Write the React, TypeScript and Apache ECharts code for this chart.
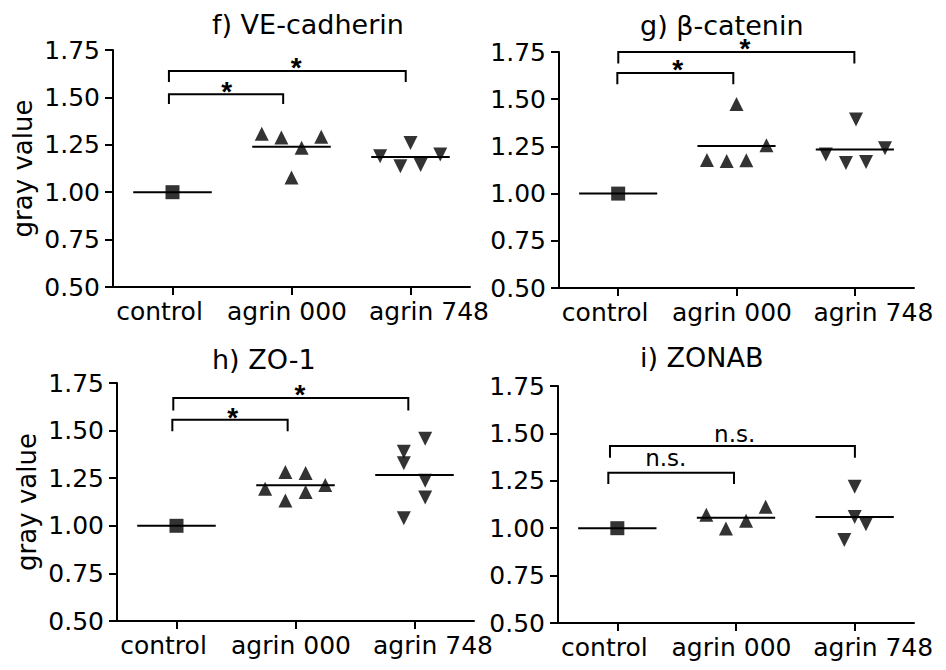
import React, { useEffect, useRef } from "react";
import * as echarts from "echarts";

// ---- categories & axis ----
const CATEGORIES = ["control", "agrin 000", "agrin 748"];
const Y_MIN = 0.5;
const Y_MAX = 1.75;
const Y_INTERVAL = 0.25;

// ---- panel titles ----
const TITLES = ["f) VE-cadherin", "g) \u03b2-catenin", "h) ZO-1", "i) ZONAB"];

// ---- data (gray value) ; jitter = horizontal offset within category band ----
const fControl = [1.0];
const fAgrin000 = [1.308, 1.288, 1.235, 1.292, 1.077];
const fAgrin000Jitter = [-0.25, -0.085, 0.085, 0.25, 0];
const fAgrin748 = [1.19, 1.137, 1.26, 1.144, 1.199];
const fAgrin748Jitter = [-0.255, -0.085, 0, 0.085, 0.25];

const gControl = [1.0];
const gAgrin000 = [1.178, 1.173, 1.475, 1.176, 1.256];
const gAgrin000Jitter = [-0.25, -0.083, 0, 0.083, 0.253];
const gAgrin748 = [1.207, 1.162, 1.392, 1.167, 1.24];
const gAgrin748Jitter = [-0.245, -0.075, 0.01, 0.095, 0.255];

const hControl = [1.0];
const hAgrin000 = [1.194, 1.282, 1.133, 1.277, 1.177, 1.214];
const hAgrin000Jitter = [-0.255, -0.085, -0.085, 0.085, 0.085, 0.25];
const hAgrin748 = [1.389, 1.329, 1.457, 1.236, 1.149, 1.04];
const hAgrin748Jitter = [-0.09, -0.09, 0.09, 0.09, 0.09, -0.09];

const iControl = [1.0];
const iAgrin000 = [1.071, 0.999, 1.039, 1.113];
const iAgrin000Jitter = [-0.25, -0.085, 0.085, 0.25];
const iAgrin748 = [1.218, 1.059, 1.021, 0.938];
const iAgrin748Jitter = [0, 0, 0.095, -0.087];

// ---- significance brackets: [xLeft, xRight, yTop, yLeg, labelX, labelY] (x in category-band units) ----
const fBrackets = [
  [0.47, 1.43, 1.516, 1.465, 0.955, 1.565],
  [0.47, 2.46, 1.639, 1.581, 1.54, 1.687],
];
const fBracketLabels = ["*", "*"];
const gBrackets = [
  [0.493, 1.473, 1.639, 1.579, 1.003, 1.69],
  [0.501, 2.496, 1.75, 1.689, 1.572, 1.798],
];
const gBracketLabels = ["*", "*"];
const hBrackets = [
  [0.465, 1.434, 1.557, 1.496, 0.972, 1.601],
  [0.473, 2.448, 1.671, 1.606, 1.538, 1.72],
];
const hBracketLabels = ["*", "*"];
const iBrackets = [
  [0.424, 1.483, 1.292, 1.233, 0.908, 1.37],
  [0.438, 2.502, 1.433, 1.371, 1.489, 1.496],
];
const iBracketLabels = ["n.s.", "n.s."];

const PANELS = [
  { control: fControl, a000: fAgrin000, j000: fAgrin000Jitter, a748: fAgrin748, j748: fAgrin748Jitter, brackets: fBrackets, labels: fBracketLabels },
  { control: gControl, a000: gAgrin000, j000: gAgrin000Jitter, a748: gAgrin748, j748: gAgrin748Jitter, brackets: gBrackets, labels: gBracketLabels },
  { control: hControl, a000: hAgrin000, j000: hAgrin000Jitter, a748: hAgrin748, j748: hAgrin748Jitter, brackets: hBrackets, labels: hBracketLabels },
  { control: iControl, a000: iAgrin000, j000: iAgrin000Jitter, a748: iAgrin748, j748: iAgrin748Jitter, brackets: iBrackets, labels: iBracketLabels },
];

// ---- layout (pixels) ----
const GRIDS = [
  { left: 113, top: 50, width: 357, height: 237 },
  { left: 559, top: 52, width: 355, height: 236 },
  { left: 117, top: 383, width: 357, height: 238 },
  { left: 558, top: 386, width: 356, height: 237 },
];
const TITLE_POS = [
  { left: 212, top: 11 },
  { left: 640, top: 12 },
  { left: 212, top: 346 },
  { left: 640, top: 344 },
];
// label padding to shift category labels off their ticks like the reference
const LABEL_PADDING = [
  [0, 26, 0, 0],
  [0, 9, 0, 0],
  [0, 0, 0, 37],
];

const FONT = "DejaVu Sans";
const STAR_FONT = "Liberation Sans";
const MEAN_HALF = 0.33;

const mean = (a: number[]) => a.reduce((s, v) => s + v, 0) / a.length;

function buildOption() {
  const grid: any[] = [];
  const xAxis: any[] = [];
  const yAxis: any[] = [];
  const series: any[] = [];
  const title: any[] = [];

  PANELS.forEach((p, i) => {
    grid.push({ ...GRIDS[i], containLabel: false, outerBoundsMode: "none" });
    title.push({
      text: TITLES[i],
      left: TITLE_POS[i].left,
      top: TITLE_POS[i].top,
      padding: 0,
      textStyle: { fontFamily: FONT, fontSize: 27, fontWeight: "normal", color: "#000" },
    });
    xAxis.push({
      type: "category",
      gridIndex: i,
      data: CATEGORIES.map((c, k) => ({ value: c, textStyle: { padding: LABEL_PADDING[k] } })),
      boundaryGap: true,
      axisLine: { show: true, lineStyle: { color: "#000", width: 2 } },
      axisTick: { show: true, alignWithLabel: true, length: 8, lineStyle: { color: "#000", width: 2 } },
      axisLabel: { color: "#000", fontSize: 25, fontFamily: FONT, margin: 12, interval: 0 },
      splitLine: { show: false },
    });
    xAxis.push({ type: "value", gridIndex: i, min: 0, max: 3, show: false });
    yAxis.push({
      type: "value",
      gridIndex: i,
      min: Y_MIN,
      max: Y_MAX,
      interval: Y_INTERVAL,
      name: i % 2 === 0 ? "gray value" : "",
      nameLocation: "middle",
      nameGap: 77,
      nameTextStyle: { fontFamily: FONT, fontSize: 26, color: "#000" },
      axisLine: { show: true, lineStyle: { color: "#000", width: 2 } },
      axisTick: { show: true, length: 8, lineStyle: { color: "#000", width: 2 } },
      axisLabel: {
        color: "#000",
        fontSize: 25,
        fontFamily: FONT,
        margin: 13,
        formatter: (v: number) => v.toFixed(2),
      },
      splitLine: { show: false },
    });

    const xi = 2 * i + 1;
    // mean lines
    series.push({
      type: "custom",
      xAxisIndex: xi,
      yAxisIndex: i,
      z: 1,
      silent: true,
      data: [
        [0, mean(p.control)],
        [1, mean(p.a000)],
        [2, mean(p.a748)],
      ],
      renderItem: (params: any, api: any) => {
        const ci = api.value(0);
        const m = api.value(1);
        const a = api.coord([ci + 0.5 - MEAN_HALF, m]);
        const b = api.coord([ci + 0.5 + MEAN_HALF, m]);
        return {
          type: "line",
          shape: { x1: a[0], y1: a[1], x2: b[0], y2: b[1] },
          style: { stroke: "#000", lineWidth: 2 },
        };
      },
    });
    // brackets
    series.push({
      type: "custom",
      xAxisIndex: xi,
      yAxisIndex: i,
      z: 1,
      silent: true,
      clip: false,
      data: p.brackets,
      renderItem: (params: any, api: any) => {
        const x1 = api.value(0);
        const x2 = api.value(1);
        const yt = api.value(2);
        const yl = api.value(3);
        const lx = api.value(4);
        const ly = api.value(5);
        const label = p.labels[params.dataIndex];
        const pts = [
          api.coord([x1, yl]),
          api.coord([x1, yt]),
          api.coord([x2, yt]),
          api.coord([x2, yl]),
        ];
        const lp = api.coord([lx, ly]);
        const isStar = label === "*";
        return {
          type: "group",
          children: [
            {
              type: "polyline",
              shape: { points: pts },
              style: { stroke: "#000", lineWidth: 2, fill: "none" },
            },
            {
              type: "text",
              x: lp[0],
              y: lp[1] + (isStar ? 6 : 0),
              style: {
                text: label,
                fontFamily: isStar ? STAR_FONT : FONT,
                fontSize: isStar ? 28 : 23,
                fontWeight: isStar ? "bold" : "normal",
                fill: "#000",
                align: "center",
                verticalAlign: "middle",
              },
            },
          ],
        };
      },
    });
    // points
    series.push({
      type: "scatter",
      xAxisIndex: xi,
      yAxisIndex: i,
      z: 3,
      clip: false,
      symbol: "rect",
      symbolSize: 14,
      itemStyle: { color: "#000" },
      data: p.control.map((v) => [0.5, v]),
    });
    series.push({
      type: "scatter",
      xAxisIndex: xi,
      yAxisIndex: i,
      z: 3,
      clip: false,
      symbol: "triangle",
      symbolSize: 14,
      itemStyle: { color: "#000" },
      data: p.a000.map((v, k) => [1.5 + p.j000[k], v]),
    });
    series.push({
      type: "scatter",
      xAxisIndex: xi,
      yAxisIndex: i,
      z: 3,
      clip: false,
      symbol: "triangle",
      symbolRotate: 180,
      symbolSize: 14,
      itemStyle: { color: "#000" },
      data: p.a748.map((v, k) => [2.5 + p.j748[k], v]),
    });
  });

  return {
    animation: false,
    backgroundColor: "#fff",
    textStyle: { fontFamily: FONT },
    title,
    grid,
    xAxis,
    yAxis,
    series,
  };
}

export default function App() {
  const ref = useRef<HTMLDivElement>(null);
  useEffect(() => {
    if (!ref.current) return;
    const chart = echarts.init(ref.current, null, { renderer: "svg" });
    chart.setOption(buildOption() as any);
    return () => chart.dispose();
  }, []);
  return (
    <div
      ref={ref}
      style={{ position: "fixed", left: 0, top: 0, width: 946, height: 670, background: "#fff" }}
    />
  );
}
